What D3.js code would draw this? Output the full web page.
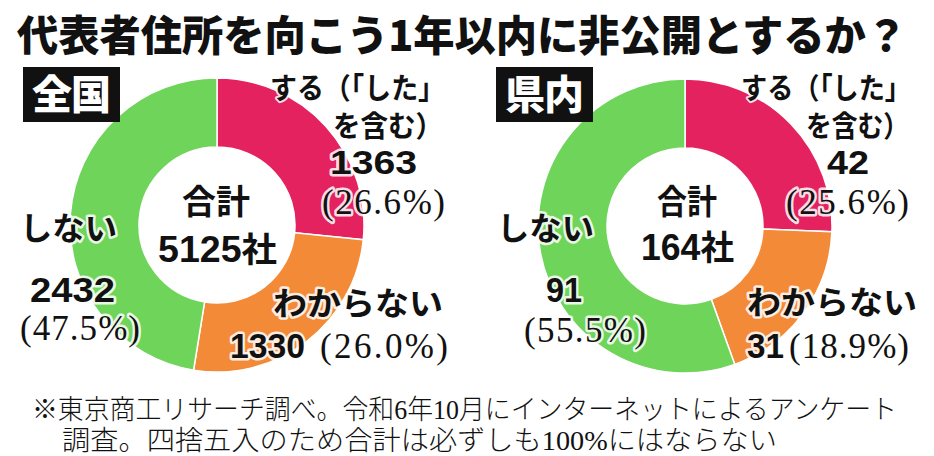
<!DOCTYPE html>
<html><head><meta charset="utf-8">
<script src="https://cdn.jsdelivr.net/npm/d3@7"></script>
<style>
html,body{margin:0;padding:0;background:#fff;}
svg{display:block;}
</style></head>
<body>
<svg id="chart" width="934" height="456"></svg>
<script>
// ---- data ----
const categories = ["する", "わからない", "しない"];
const categoryLabels = [["する（「した」", "を含む）"], ["わからない"], ["しない"]];
const panelNames = ["全国", "県内"];
const nationalValues = [1363, 1330, 2432];
const nationalPercents = ["26.6", "26.0", "47.5"];
const prefValues = [42, 31, 91];
const prefPercents = ["25.6", "18.9", "55.5"];
const totals = [5125, 164];
const titleText = "代表者住所を向こう1年以内に非公開とするか？";
const noteLines = [
  "※東京商工リサーチ調べ。令和6年10月にインターネットによるアンケート",
  "調査。四捨五入のため合計は必ずしも100%にはならない"
];

// ---- style / layout ----
const colors = d3.scaleOrdinal().domain(categories).range(["#e3225f", "#f38a38", "#6fd45a"]);
const SANS = "'Noto Sans CJK JP','Noto Sans',sans-serif";
const NUM = "'Liberation Sans',Arial,'Noto Sans CJK JP',sans-serif";
const SERIF = "'Liberation Serif','DejaVu Serif','Noto Sans CJK JP',serif";

const svg = d3.select("#chart");

svg.append("text").text(titleText)
  .attr("x", 17).attr("y", 51)
  .attr("font-family", SANS).attr("font-weight", 900).attr("font-size", 42)
  .attr("textLength", 890).attr("lengthAdjust", "spacingAndGlyphs")
  .attr("fill", "#111");

const panels = [
  {name: panelNames[0], values: nationalValues, pcts: nationalPercents, total: totals[0],
   cx: 217, cy: 225, box: [23, 67, 97, 55],
   L: {
     s1: [445, 99, 175], s2: [443, 137, 110], sv: [373.5, 174, 87], sp: [383.5, 214, 123],
     w: [443, 315, 170], wv: [230, 358, 75], wp: [320, 358, 128],
     n: [20, 240, 97], nv: [72.5, 302, 85], np: [80, 340, 120],
     c1: [216, 214, 68], c2: [217.5, 262, 119]
   }},
  {name: panelNames[1], values: prefValues, pcts: prefPercents, total: totals[1],
   cx: 685, cy: 226, box: [496, 67, 97, 55],
   L: {
     s1: [911, 99, 170], s2: [909, 137, 103], sv: [848, 174, 42], sp: [847.5, 214, 123],
     w: [917, 314, 170], wv: [747, 358, 37], wp: [789, 358, 120],
     n: [497, 240, 97], nv: [564, 302, 36], np: [585, 342, 122],
     c1: [687, 214, 60], c2: [687.5, 260, 93]
   }}
];

const R = 147, r = 78;
const pie = d3.pie().sort(null).value(d => d.v).startAngle(0).endAngle(2 * Math.PI);
const arc = d3.arc().innerRadius(r).outerRadius(R);

function label(g, pos, txt, opt) {
  const t = g.append("text").text(txt)
    .attr("x", pos[0]).attr("y", pos[1])
    .attr("text-anchor", opt.anchor || "start")
    .attr("font-family", opt.family).attr("font-weight", opt.weight || 700)
    .attr("font-size", opt.size).attr("fill", opt.fill || "#111");
  if (pos[2]) t.attr("textLength", pos[2]).attr("lengthAdjust", opt.adjust || "spacingAndGlyphs");
  if (opt.halo) {
    t.attr("stroke", opt.halo).attr("stroke-width", opt.haloW || 5)
     .attr("stroke-linejoin", "round").attr("paint-order", "stroke");
  }
  return t;
}

panels.forEach(p => {
  const g = svg.append("g");
  const data = categories.map((c, i) => ({c, v: p.values[i]}));
  g.append("g").attr("transform", `translate(${p.cx},${p.cy})`)
    .selectAll("path").data(pie(data)).join("path")
    .attr("d", arc).attr("fill", d => colors(d.data.c))
    .attr("stroke", "#fff").attr("stroke-width", 1.5);

  g.append("rect").attr("x", p.box[0]).attr("y", p.box[1])
    .attr("width", p.box[2]).attr("height", p.box[3]).attr("fill", "#111");
  label(g, [p.box[0] + p.box[2] / 2, p.box[1] + 42, 79], p.name,
    {anchor: "middle", family: SANS, weight: 900, size: 40, fill: "#fff", adjust: "spacing"});

  const L = p.L;
  const halo = "rgba(255,255,255,0.85)";
  label(g, L.s1, categoryLabels[0][0], {anchor: "end", family: SANS, size: 29, halo, haloW: 4});
  label(g, L.s2, categoryLabels[0][1], {anchor: "end", family: SANS, size: 29, halo, haloW: 4});
  label(g, L.sv, String(p.values[0]), {anchor: "middle", family: NUM, size: 34, halo});
  label(g, L.sp, `(${p.pcts[0]}%)`, {anchor: "middle", family: SERIF, weight: 400, size: 35, halo, adjust: "spacing"});

  label(g, L.w, categoryLabels[1][0], {anchor: "end", family: SANS, size: 32, halo});
  label(g, L.wv, String(p.values[1]), {anchor: "start", family: NUM, size: 35, halo});
  label(g, L.wp, `(${p.pcts[1]}%)`, {anchor: "start", family: SERIF, weight: 400, size: 35, halo, adjust: "spacing"});

  label(g, L.n, categoryLabels[2][0], {anchor: "start", family: SANS, size: 32, halo});
  label(g, L.nv, String(p.values[2]), {anchor: "middle", family: NUM, size: 35, halo});
  label(g, L.np, `(${p.pcts[2]}%)`, {anchor: "middle", family: SERIF, weight: 400, size: 35, halo, adjust: "spacing"});

  label(g, L.c1, "合計", {anchor: "middle", family: SANS, size: 34});
  const t = label(g, [L.c2[0], L.c2[1]], "", {anchor: "middle", family: NUM, size: 36});
  t.append("tspan").text(String(p.total));
  t.append("tspan").attr("font-family", SANS).attr("font-size", 34).text("社");
  t.attr("textLength", L.c2[2]).attr("lengthAdjust", "spacingAndGlyphs");
});

// footnote
const note = svg.append("g").attr("font-family", SERIF).attr("font-weight", 300).attr("fill", "#111");
note.append("text").text(noteLines[0]).attr("x", 32).attr("y", 419)
  .attr("font-size", 27).attr("textLength", 865).attr("lengthAdjust", "spacingAndGlyphs");
note.append("text").text(noteLines[1]).attr("x", 62).attr("y", 450)
  .attr("font-size", 27).attr("textLength", 715).attr("lengthAdjust", "spacingAndGlyphs");
</script>
</body></html>
